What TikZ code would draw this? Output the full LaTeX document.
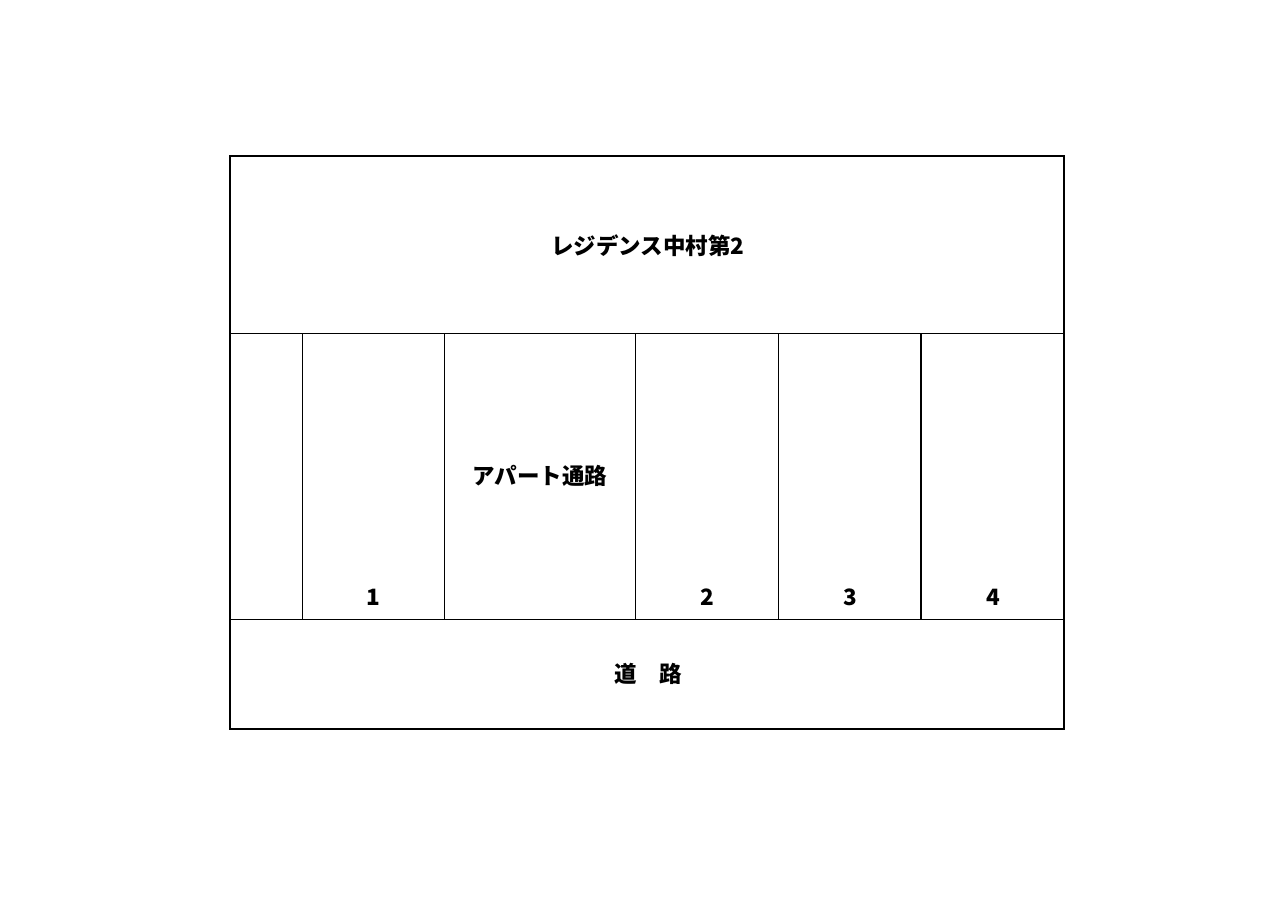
\documentclass[tikz,border=0pt]{standalone}
\usepackage{fontspec}
\setmainfont{Noto Sans CJK JP}
\begin{document}
\begin{tikzpicture}[x=1pt,y=-1pt,
  wall/.style={draw=black,line width=1.6pt},
  thin/.style={draw=black,line width=1pt},
  lbl/.style={font=\fontsize{22.5}{24}\selectfont\bfseries,inner sep=0pt}]
\useasboundingbox (0,0) rectangle (1278,904);
\coordinate (tl) at (230,156);
\coordinate (br) at (1064,729);
\draw[wall] (tl) rectangle (br);
\draw[thin] (230,333) -- (1064,333);
\draw[thin] (230,619) -- (1064,619);
\foreach \x in {302,444,635,778}{\draw[thin] (\x,333) -- (\x,619);}
\draw[wall] (921,333) -- (921,619);
\node[lbl] (bldg) at (648,246) {レジデンス中村第2};
\node[lbl] (path) at (540,476) {アパート通路};
\node[lbl] (n1) at (373,597) {1};
\node[lbl] (n2) at (707,597) {2};
\node[lbl] (n3) at (850,597) {3};
\node[lbl] (n4) at (993,597) {4};
\node[lbl] (road) at (648,674) {道　路};
\end{tikzpicture}
\end{document}
